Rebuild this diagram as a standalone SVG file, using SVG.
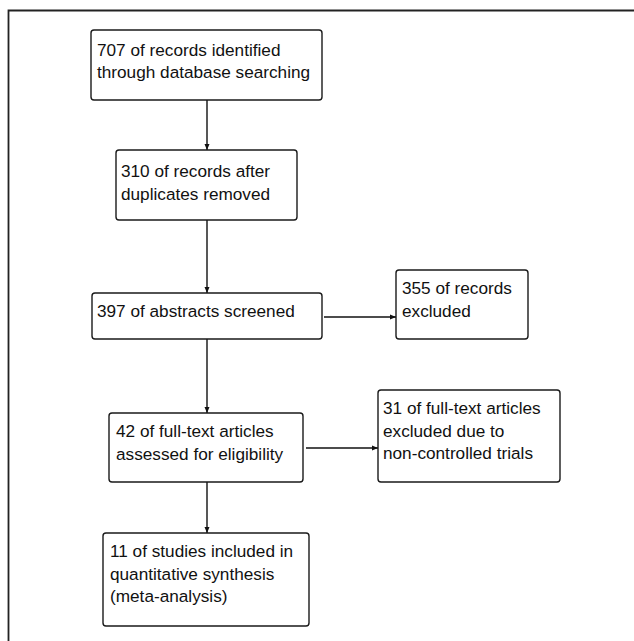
<svg xmlns="http://www.w3.org/2000/svg" width="634" height="641" viewBox="0 0 634 641">
<style>
.box{fill:#fff;stroke:#1a1a1a;stroke-width:1.4}
.t{font-family:"Liberation Sans",Arial,sans-serif;font-size:17.2px;fill:#111}
.c{stroke:#111;stroke-width:1.4;fill:none;marker-end:url(#ah)}
.frame{stroke:#222;stroke-width:1.8;fill:none}
</style>
<defs>
<marker id="ah" viewBox="0 0 6 6" refX="6" refY="3" markerWidth="6" markerHeight="6" markerUnits="userSpaceOnUse" orient="auto">
<path d="M0,0.5 L6,3 L0,5.5 Z" fill="#111"/>
</marker>
</defs>
<rect width="634" height="641" fill="#fff"/>
<path class="frame" d="M8.5,641 V10.5 H634"/>
<g id="connectors">
<line class="c" x1="207" y1="100" x2="207" y2="150"/>
<line class="c" x1="207" y1="220" x2="207" y2="293"/>
<line class="c" x1="324" y1="317" x2="396" y2="317"/>
<line class="c" x1="207" y1="339" x2="207" y2="413"/>
<line class="c" x1="306" y1="448" x2="378" y2="448"/>
<line class="c" x1="207" y1="482" x2="207" y2="533"/>
</g>
<g id="n1">
<rect class="box" x="91" y="30" width="231" height="70" rx="3"/>
<text class="t" x="97" y="55.5">707 of records identified</text>
<text class="t" x="97" y="78">through database searching</text>
</g>
<g id="n2">
<rect class="box" x="116" y="150" width="181" height="70" rx="3"/>
<text class="t" x="121" y="177">310 of records after</text>
<text class="t" x="121" y="199.5">duplicates removed</text>
</g>
<g id="n3">
<rect class="box" x="92" y="293" width="230" height="46" rx="3"/>
<text class="t" x="97" y="317">397 of abstracts screened</text>
</g>
<g id="n4">
<rect class="box" x="396" y="270" width="132" height="69" rx="3"/>
<text class="t" x="402" y="294">355 of records</text>
<text class="t" x="402" y="316.5">excluded</text>
</g>
<g id="n5">
<rect class="box" x="109" y="413" width="194" height="69" rx="3"/>
<text class="t" x="116" y="437">42 of full-text articles</text>
<text class="t" x="116" y="459.5">assessed for eligibility</text>
</g>
<g id="n6">
<rect class="box" x="378" y="390" width="182" height="92" rx="3"/>
<text class="t" x="383" y="414">31 of full-text articles</text>
<text class="t" x="383" y="436.5">excluded due to</text>
<text class="t" x="383" y="459">non-controlled trials</text>
</g>
<g id="n7">
<rect class="box" x="103" y="533" width="206" height="93" rx="3"/>
<text class="t" x="110" y="557">11 of studies included in</text>
<text class="t" x="110" y="579.5">quantitative synthesis</text>
<text class="t" x="110" y="602">(meta-analysis)</text>
</g>
</svg>
